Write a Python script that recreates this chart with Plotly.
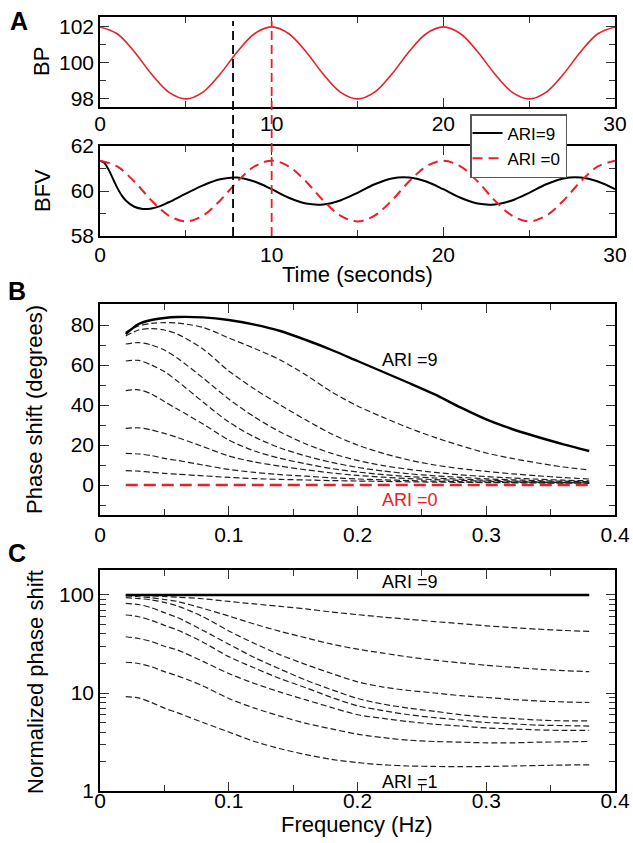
import plotly.graph_objects as go

W, H = 633, 843

# ---------------- Panel A data ----------------
t_bp = list(range(0, 31))
bp = [102.0, 101.62, 100.62, 99.38, 98.38, 98.0, 98.38, 99.38, 100.62, 101.62,
      102.0, 101.62, 100.62, 99.38, 98.38, 98.0, 98.38, 99.38, 100.62, 101.62,
      102.0, 101.62, 100.62, 99.38, 98.38, 98.0, 98.38, 99.38, 100.62, 101.62,
      102.0]

t_ari0 = list(range(0, 31))
bfv_ari0 = [61.35, 61.09, 60.42, 59.58, 58.91, 58.65, 58.91, 59.58, 60.42, 61.09,
            61.35, 61.09, 60.42, 59.58, 58.91, 58.65, 58.91, 59.58, 60.42, 61.09,
            61.35, 61.09, 60.42, 59.58, 58.91, 58.65, 58.91, 59.58, 60.42, 61.09,
            61.35]

t_ari9 = [0, 0.25, 0.5, 0.75, 1, 1.25, 1.5, 2, 2.5, 3, 3.5, 4, 5, 6, 7, 8, 9, 10,
          11, 12, 13, 14, 15, 16, 17, 18, 19, 20, 21, 22, 23, 24, 25, 26, 27, 28, 29, 30]
bfv_ari9 = [61.35, 61.25, 60.95, 60.55, 60.15, 59.82, 59.58, 59.3, 59.2, 59.22, 59.33,
            59.5, 59.88, 60.25, 60.52, 60.6, 60.42, 60.08, 59.7, 59.44, 59.4, 59.58,
            59.92, 60.3, 60.56, 60.6, 60.42, 60.08, 59.7, 59.44, 59.4, 59.58, 59.92,
            60.3, 60.56, 60.6, 60.42, 60.08]

marker_black_t = 7.75
marker_red_t = 10.0

# ---------------- Panel B data (phase shift, degrees) ----------------
freq = [0.02, 0.03, 0.04, 0.05, 0.06, 0.08, 0.10, 0.12, 0.14, 0.16, 0.18,
        0.20, 0.22, 0.24, 0.26, 0.28, 0.30, 0.32, 0.34, 0.36, 0.38]
phase_ari9 = [75.5, 80.5, 82.5, 83.5, 84.0, 83.8, 82.5, 80.2, 77.0, 72.5, 67.5,
              62.0, 56.5, 51.0, 45.3, 38.8, 32.8, 28.0, 24.0, 20.3, 17.0]
phase_ari8 = [76.5, 79.5, 80.8, 81.2, 81.0, 78.8, 73.5, 68.3, 62.5, 55.0, 46.5,
              39.5, 33.8, 28.5, 23.8, 19.7, 16.0, 13.3, 11.0, 9.0, 7.5]
phase_ari7 = [74.5, 77.5, 78.2, 77.5, 75.5, 68.0, 57.0, 48.0, 40.0, 32.5, 25.5,
              20.0, 15.8, 12.5, 10.0, 8.2, 6.8, 5.6, 4.6, 3.7, 3.0]
phase_ari6 = [70.5, 71.2, 70.0, 67.5, 63.5, 53.5, 43.0, 34.0, 26.5, 20.5, 15.8,
              12.3, 9.7, 7.8, 6.3, 5.1, 4.2, 3.5, 2.9, 2.4, 2.1]
phase_ari5 = [62.0, 62.3, 60.0, 56.7, 52.0, 41.5, 31.5, 24.0, 18.5, 14.5, 11.3,
              8.8, 7.0, 5.6, 4.6, 3.8, 3.1, 2.6, 2.2, 1.9, 1.7]
phase_ari4 = [47.2, 47.6, 45.5, 41.7, 38.0, 30.5, 22.5, 17.0, 13.3, 10.6, 8.2,
              6.5, 5.2, 4.2, 3.5, 2.9, 2.4, 2.0, 1.7, 1.5, 1.4]
phase_ari3 = [28.3, 28.6, 27.5, 25.8, 23.8, 19.2, 14.5, 11.5, 9.4, 7.6, 6.0,
              4.8, 3.9, 3.2, 2.7, 2.3, 1.9, 1.6, 1.4, 1.2, 1.1]
phase_ari2 = [15.8, 15.5, 14.7, 13.3, 12.3, 10.0, 7.8, 6.3, 5.2, 4.4, 3.6,
              3.0, 2.6, 2.2, 1.9, 1.65, 1.45, 1.3, 1.15, 1.05, 1.0]
phase_ari1 = [7.2, 6.9, 6.4, 5.8, 5.4, 4.6, 3.8, 3.2, 2.8, 2.5, 2.2,
              2.0, 1.8, 1.6, 1.45, 1.32, 1.2, 1.1, 1.0, 0.9, 0.85]
phase_ari0 = [0.0, 0.0, 0.0, 0.0, 0.0, 0.0, 0.0, 0.0, 0.0, 0.0, 0.0,
              0.0, 0.0, 0.0, 0.0, 0.0, 0.0, 0.0, 0.0, 0.0, 0.0]

# ---------------- Panel C data (normalized phase shift, %) ----------------
norm_ari9 = [100, 100, 100, 100, 100, 100, 100, 100, 100, 100, 100,
             100, 100, 100, 100, 100, 100, 100, 100, 100, 100]
norm_ari8 = [99.5, 99.0, 98.0, 96.5, 95.0, 91.5, 86.0, 81.0, 76.5, 72.0, 67.0,
             63.0, 59.5, 56.5, 53.5, 51.0, 48.5, 46.5, 44.8, 43.5, 42.5]
norm_ari7 = [98.0, 96.0, 93.5, 90.0, 86.0, 73.0, 61.0, 50.5, 42.5, 36.5, 31.5,
             28.0, 25.5, 23.3, 21.6, 20.3, 19.2, 18.3, 17.5, 16.9, 16.5]
norm_ari6 = [94.0, 92.0, 89.0, 84.0, 77.5, 60.0, 43.0, 32.0, 24.5, 19.5, 15.8,
             13.0, 11.5, 10.6, 10.0, 9.4, 9.0, 8.6, 8.3, 8.1, 8.0]
norm_ari5 = [82.0, 80.0, 74.0, 66.0, 59.0, 43.5, 31.5, 23.0, 17.5, 13.5, 10.8,
             8.8, 7.7, 7.0, 6.5, 6.0, 5.7, 5.5, 5.3, 5.2, 5.2]
norm_ari4 = [62.5, 60.0, 55.0, 49.0, 44.0, 33.0, 23.5, 18.0, 14.0, 11.3, 9.0,
             7.4, 6.6, 6.0, 5.6, 5.3, 5.0, 4.85, 4.7, 4.65, 4.6]
norm_ari3 = [37.5, 36.0, 33.5, 30.0, 27.5, 21.0, 15.8, 12.5, 10.2, 8.5, 7.1,
             6.0, 5.5, 5.1, 4.8, 4.6, 4.4, 4.3, 4.2, 4.15, 4.15]
norm_ari2 = [20.6, 20.0, 18.5, 16.5, 15.0, 11.8, 8.8, 7.0, 5.8, 4.9, 4.3,
             3.8, 3.5, 3.3, 3.2, 3.15, 3.1, 3.1, 3.15, 3.17, 3.2]
norm_ari1 = [9.2, 8.9, 8.0, 7.0, 6.3, 5.0, 4.0, 3.2, 2.7, 2.35, 2.1,
             1.95, 1.85, 1.8, 1.78, 1.77, 1.78, 1.8, 1.82, 1.84, 1.85]

RED = "#e8202a"
BLACK = "#000000"
DGRAY = "#222222"
FONT = "Liberation Sans, Arial, Helvetica, sans-serif"


def px_x(p):
    return p / W


def px_y(p):
    return 1 - p / H


fig = go.Figure()

# Panel A top: BP
fig.add_trace(go.Scatter(x=t_bp, y=bp, mode="lines",
                         line=dict(color=RED, width=1.6, shape="spline", smoothing=1.0),
                         xaxis="x", yaxis="y", showlegend=False, hoverinfo="skip"))
# Panel A bottom: BFV
fig.add_trace(go.Scatter(x=t_ari9, y=bfv_ari9, mode="lines", name="ARI=9",
                         line=dict(color=BLACK, width=2, shape="spline", smoothing=1.0),
                         xaxis="x2", yaxis="y2", showlegend=True))
fig.add_trace(go.Scatter(x=t_ari0, y=bfv_ari0, mode="lines", name="ARI =0",
                         line=dict(color=RED, width=2, dash="10px,6px", shape="spline", smoothing=1.0),
                         xaxis="x2", yaxis="y2", showlegend=True))

# Panel B
dashed_b = [phase_ari8, phase_ari7, phase_ari6, phase_ari5, phase_ari4, phase_ari3, phase_ari2, phase_ari1]
for series in dashed_b:
    fig.add_trace(go.Scatter(x=freq, y=series, mode="lines",
                             line=dict(color=DGRAY, width=1.2, dash="6px,3px", shape="spline", smoothing=0.8),
                             xaxis="x3", yaxis="y3", showlegend=False))
fig.add_trace(go.Scatter(x=freq, y=phase_ari0, mode="lines",
                         line=dict(color=RED, width=2.5, dash="12px,6px"),
                         xaxis="x3", yaxis="y3", showlegend=False))
fig.add_trace(go.Scatter(x=freq, y=phase_ari9, mode="lines",
                         line=dict(color=BLACK, width=2.4, shape="spline", smoothing=0.8),
                         xaxis="x3", yaxis="y3", showlegend=False))

# Panel C
dashed_c = [norm_ari8, norm_ari7, norm_ari6, norm_ari5, norm_ari4, norm_ari3, norm_ari2, norm_ari1]
for series in dashed_c:
    fig.add_trace(go.Scatter(x=freq, y=series, mode="lines",
                             line=dict(color=DGRAY, width=1.2, dash="6px,3px", shape="spline", smoothing=0.8),
                             xaxis="x4", yaxis="y4", showlegend=False))
fig.add_trace(go.Scatter(x=freq, y=norm_ari9, mode="lines",
                         line=dict(color=BLACK, width=2.4),
                         xaxis="x4", yaxis="y4", showlegend=False))

xdom = [px_x(100), px_x(615)]
dom_a1 = [px_y(107), px_y(17)]
dom_a2 = [px_y(236), px_y(146)]
dom_b = [px_y(515), px_y(304)]
dom_c = [px_y(791), px_y(570)]

tickfont = dict(family=FONT, size=21, color="black")


def minor(**kw):
    m = dict(ticks="inside", ticklen=6, tickwidth=1.3, tickcolor="#333333", showgrid=False)
    m.update(kw)
    return m


def ax(**kw):
    base = dict(showline=True, linecolor="black", linewidth=1.6, mirror="allticks",
                ticks="inside", ticklen=9, tickwidth=1.3, tickcolor="#333333",
                showgrid=False, zeroline=False, tickfont=tickfont, automargin=False)
    base.update(kw)
    return base


fig.update_layout(
    width=W, height=H,
    margin=dict(l=0, r=0, t=0, b=0, pad=0),
    paper_bgcolor="white", plot_bgcolor="white",
    font=dict(family=FONT, size=20, color="black"),
    xaxis=ax(domain=xdom, anchor="y", range=[0, 30], dtick=10, tick0=0, ticklabelstandoff=-3, minor=minor(dtick=5)),
    yaxis=ax(domain=dom_a1, anchor="x", range=[97.55, 102.55], dtick=2, tick0=0, minor=minor(dtick=1)),
    xaxis2=ax(domain=xdom, anchor="y2", range=[0, 30], dtick=10, tick0=0, ticklabelstandoff=-1, minor=minor(dtick=5)),
    yaxis2=ax(domain=dom_a2, anchor="x2", range=[58, 62], dtick=2, tick0=0, minor=minor(dtick=1)),
    xaxis3=ax(domain=xdom, anchor="y3", range=[0, 0.4], dtick=0.1, tick0=0, ticklabelstandoff=0, minor=minor(dtick=0.05)),
    yaxis3=ax(domain=dom_b, anchor="x3", range=[-15, 90.5], dtick=20, tick0=0, minor=minor(dtick=10)),
    xaxis4=ax(domain=xdom, anchor="y4", range=[0, 0.4], dtick=0.1, tick0=0, ticklabelstandoff=-10, minor=minor(dtick=0.05)),
    yaxis4=ax(domain=dom_c, anchor="x4", type="log", range=[0, 2.255],
              tickvals=[1, 10, 100], ticktext=["1", "10", "100"],
              minor=minor(tickvals=[2, 3, 4, 5, 6, 7, 8, 9, 20, 30, 40, 50, 60, 70, 80, 90])),
    legend=dict(x=px_x(470), y=px_y(114), xanchor="left", yanchor="top",
                bgcolor="white", bordercolor="#555555", borderwidth=1.5,
                font=dict(family=FONT, size=17, color="black"),
                itemwidth=30, tracegroupgap=0, indentation=-4),
    showlegend=True,
)

# Vertical marker lines spanning both A panels
fig.add_shape(type="line", xref="x", yref="paper", x0=marker_black_t, x1=marker_black_t,
              y0=dom_a2[0], y1=px_y(21), line=dict(color=BLACK, width=1.8, dash="9px,5px"))
fig.add_shape(type="line", xref="x", yref="paper", x0=marker_red_t, x1=marker_red_t,
              y0=dom_a2[0], y1=px_y(21), line=dict(color=RED, width=1.8, dash="9px,5px"))

annots = [
    dict(text="<b>A</b>", x=px_x(19), y=px_y(21), size=25, color="black"),
    dict(text="<b>B</b>", x=px_x(17), y=px_y(291), size=25, color="black"),
    dict(text="<b>C</b>", x=px_x(17), y=px_y(553), size=25, color="black"),
    dict(text="Time (seconds)", x=px_x(357), y=px_y(275), size=22, color="black"),
    dict(text="Frequency (Hz)", x=px_x(357), y=px_y(824), size=22, color="black"),
]
for a in annots:
    fig.add_annotation(text=a["text"], x=a["x"], y=a["y"], xref="paper", yref="paper",
                       showarrow=False, xanchor="center", yanchor="middle",
                       font=dict(family=FONT, size=a["size"], color=a["color"]))

vtitles = [
    ("BP", 42, 62),
    ("BFV", 42, 191),
    ("Phase shift (degrees)", 34, 410),
    ("Normalized phase shift", 35, 682),
]
for txt, xp, yp in vtitles:
    fig.add_annotation(text=txt, x=px_x(xp), y=px_y(yp), xref="paper", yref="paper",
                       showarrow=False, textangle=-90, xanchor="center", yanchor="middle",
                       font=dict(family=FONT, size=22, color="black"))

# In-plot labels
fig.add_annotation(text="ARI =9", x=0.241, y=62.5, xref="x3", yref="y3", showarrow=False,
                   font=dict(family=FONT, size=18, color="black"))
fig.add_annotation(text="ARI =0", x=0.241, y=-7.5, xref="x3", yref="y3", showarrow=False,
                   font=dict(family=FONT, size=18, color=RED))
fig.add_annotation(text="ARI =9", x=0.241, y=2.136, xref="x4", yref="y4", showarrow=False,
                   font=dict(family=FONT, size=18, color="black"))
fig.add_annotation(text="ARI =1", x=0.241, y=0.095, xref="x4", yref="y4", showarrow=False,
                   font=dict(family=FONT, size=18, color="black"))

fig.write_html("out.html", config={"displayModeBar": False},
               post_script="document.body.style.margin='0';document.body.style.padding='0';document.body.style.overflow='hidden';")
